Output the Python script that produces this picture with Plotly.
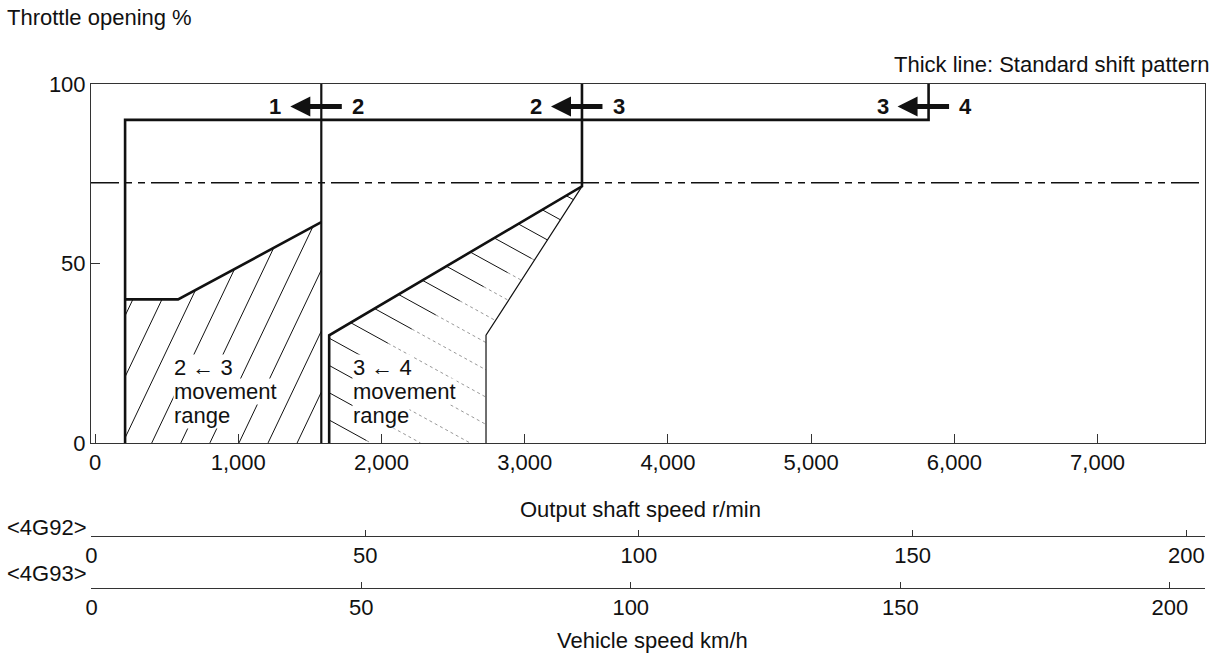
import numpy as np
import plotly.graph_objects as go

# ---------------- data ----------------
speed_ticks = [0, 1000, 2000, 3000, 4000, 5000, 6000, 7000]
speed_tick_text = ["0", "1,000", "2,000", "3,000", "4,000", "5,000", "6,000", "7,000"]
throttle_ticks = [0, 50, 100]
vehicle_ticks = [0, 50, 100, 150, 200]

# thick lines (standard shift pattern): output shaft speed r/min vs throttle %
wot_x = [210, 210, 5820, 5820]
wot_y = [0, 90, 90, 100]
up12_x = [1580, 1580]
up12_y = [0, 100]
down23_x = [210, 580, 1580]
down23_y = [40, 40, 61.5]
line34_x = [1635, 1635, 3400, 3400]
line34_y = [0, 30, 71.5, 100]
# thin line: right edge of 3<-4 movement range
edge34_x = [3400, 2730, 2730]
edge34_y = [71.5, 30, 0]
# dash-dot line
kickdown_y = 72.5

# shift arrows at the top
shift_points = [1580, 3400, 5820]
shift_labels = [("1", "2"), ("2", "3"), ("3", "4")]
arrow_y = 93.7

# ---------------- layout geometry ----------------
FW, FH = 1215, 657
L, R, T, B = 91, 1205, 84, 620
W, H = R - L, B - T


def px(x):
    return (x - L) / W


def py(y):
    return (B - y) / H


FONT = "Liberation Sans, Arial, Helvetica, sans-serif"
FS = 22
BLACK = "#111111"

fig = go.Figure()

# ---------------- hatching ----------------
def hatch_segments(lines, inside, xmin, xmax):
    xs = np.linspace(xmin, xmax, 4000)
    segs = []
    for f in lines:
        ys = f(xs)
        m = inside(xs, ys)
        if m.any():
            idx = np.where(m)[0]
            segs.append((xs[idx[0]], ys[idx[0]], xs[idx[-1]], ys[idx[-1]]))
    return segs


# left region: 2 <- 3 movement range (steep "/" hatch)
m1 = 2.1 * (W / 7778.0) / (359 / 100.0)
b_vals = np.arange(-213, 1580, 203)
left_lines = [(lambda b: (lambda x: m1 * (x - b)))(b) for b in b_vals]


def inside_left(x, y):
    top = np.interp(x, down23_x, down23_y)
    return (x >= down23_x[0]) & (x <= up12_x[0]) & (y >= 0) & (y <= top)


segs = hatch_segments(left_lines, inside_left, down23_x[0], up12_x[0])
hx, hy = [], []
for x0, y0, x1, y1 in segs:
    hx += [x0, x1, None]
    hy += [y0, y1, None]
fig.add_trace(go.Scatter(x=hx, y=hy, mode="lines", line=dict(color=BLACK, width=1),
                         hoverinfo="skip", showlegend=False))

# right region: 3 <- 4 movement range (shallow "\" hatch)
m2 = -0.55 * (W / 7778.0) / (359 / 100.0)
c_vals = np.arange(6.4, 112, 7.6)
x_left = line34_x[0]
right_lines = [(lambda c: (lambda x: c + m2 * (x - x_left)))(c) for c in c_vals]


def inside_right(x, y):
    top = np.interp(x, line34_x[1:3], line34_y[1:3])
    xr = np.interp(y, edge34_y[::-1], edge34_x[::-1])
    return (x >= x_left) & (y >= 0) & (y <= top) & (x <= xr)


segs = hatch_segments(right_lines, inside_right, x_left, line34_x[2])
sx, sy, dx, dy = [], [], [], []
for x0, y0, x1, y1 in segs:
    xm = min(x1, x0 + 260)
    ym = y0 + (y1 - y0) * (xm - x0) / (x1 - x0) if x1 > x0 else y1
    sx += [x0, xm, None]
    sy += [y0, ym, None]
    if x1 > xm:
        dx += [xm, x1, None]
        dy += [ym, y1, None]
fig.add_trace(go.Scatter(x=dx, y=dy, mode="lines",
                         line=dict(color="#999999", width=1, dash="dot"),
                         hoverinfo="skip", showlegend=False))
fig.add_trace(go.Scatter(x=sx, y=sy, mode="lines", line=dict(color=BLACK, width=1),
                         hoverinfo="skip", showlegend=False))

# ---------------- dash-dot line ----------------
fig.add_shape(type="line", xref="paper", x0=0, x1=1, yref="y", y0=kickdown_y, y1=kickdown_y,
              line=dict(color=BLACK, width=1.5, dash="28px,6px,7px,6px,7px,6px"))

# ---------------- shift lines ----------------
for xs_, ys_, w in [(wot_x, wot_y, 2.6), (up12_x, up12_y, 2.2), (down23_x, down23_y, 2.6),
                    (line34_x, line34_y, 2.6), (edge34_x, edge34_y, 1.2)]:
    fig.add_trace(go.Scatter(x=xs_, y=ys_, mode="lines", line=dict(color=BLACK, width=w),
                             hoverinfo="skip", showlegend=False))

# invisible traces to activate the vehicle speed axes
for ax in ["x2", "x3"]:
    fig.add_trace(go.Scatter(x=[0], y=[0], xaxis=ax, yaxis="y", mode="markers",
                             marker=dict(opacity=0), hoverinfo="skip", showlegend=False))

# ---------------- annotations ----------------
ann = []
for v, (lo, hi) in zip(shift_points, shift_labels):
    ann.append(dict(x=v, y=arrow_y, xref="x", yref="y", text="", showarrow=True,
                    ax=53, ay=0, xshift=-31, arrowhead=2, arrowwidth=5, arrowsize=0.8,
                    arrowcolor=BLACK))
    ann.append(dict(x=v, y=arrow_y, xref="x", yref="y", text="<b>%s</b>" % lo, showarrow=False,
                    xshift=-46, font=dict(size=FS, color=BLACK, family=FONT)))
    ann.append(dict(x=v, y=arrow_y, xref="x", yref="y", text="<b>%s</b>" % hi, showarrow=False,
                    xshift=37, font=dict(size=FS, color=BLACK, family=FONT)))

for x0, lines in [(545, ["2 \u2190 3", "movement", "range"]),
                  (1792, ["3 \u2190 4", "movement", "range"])]:
    for txt, yv in zip(lines, [20.9, 14.3, 7.8]):
        ann.append(dict(x=x0, y=yv, xref="x", yref="y", text=txt, showarrow=False,
                        xanchor="left", yanchor="middle", bgcolor="white", borderpad=0,
                        font=dict(size=FS, color=BLACK, family=FONT)))


def ptext(txt, x, y, xanchor="left"):
    ann.append(dict(x=px(x), y=py(y), xref="paper", yref="paper", text=txt, showarrow=False,
                    xanchor=xanchor, yanchor="middle",
                    font=dict(size=FS, color=BLACK, family=FONT)))


ptext("Throttle opening %", 5, 17)
ptext("Thick line: Standard shift pattern", 1212, 64, "right")
ptext("Output shaft speed r/min", 640, 509, "center")
ptext("&lt;4G92&gt;", 5, 527)
ptext("&lt;4G93&gt;", 5, 573)
ptext("Vehicle speed km/h", 652, 640, "center")

axis_common = dict(showgrid=False, zeroline=False, showline=True, linecolor="#333333",
                   linewidth=1, ticks="inside", tickcolor="#333333",
                   tickfont=dict(size=FS, color=BLACK, family=FONT))

fig.update_layout(
    width=FW, height=FH,
    margin=dict(l=L, r=FW - R, t=T, b=FH - B),
    paper_bgcolor="white", plot_bgcolor="white",
    showlegend=False,
    annotations=ann,
    xaxis=dict(range=[-28, 7750], domain=[0, 1], anchor="y", tickvals=speed_ticks,
               ticktext=speed_tick_text, ticklen=9, mirror=True, **axis_common),
    yaxis=dict(range=[0, 100], domain=[py(443), 1], anchor="x", tickvals=throttle_ticks,
               ticklen=9, mirror=True, **axis_common),
    xaxis2=dict(range=[-0.09, 203.4], overlaying="x", anchor="free", position=py(536),
                side="bottom", tickvals=vehicle_ticks, ticklen=6, **axis_common),
    xaxis3=dict(range=[-0.1, 206.5], overlaying="x", anchor="free", position=py(588),
                side="bottom", tickvals=vehicle_ticks, ticklen=6, **axis_common),
)

fig.write_html("out.html",
               config={"displayModeBar": False},
               post_script="document.body.style.margin='0px';"
                           "document.body.style.overflow='hidden';")
